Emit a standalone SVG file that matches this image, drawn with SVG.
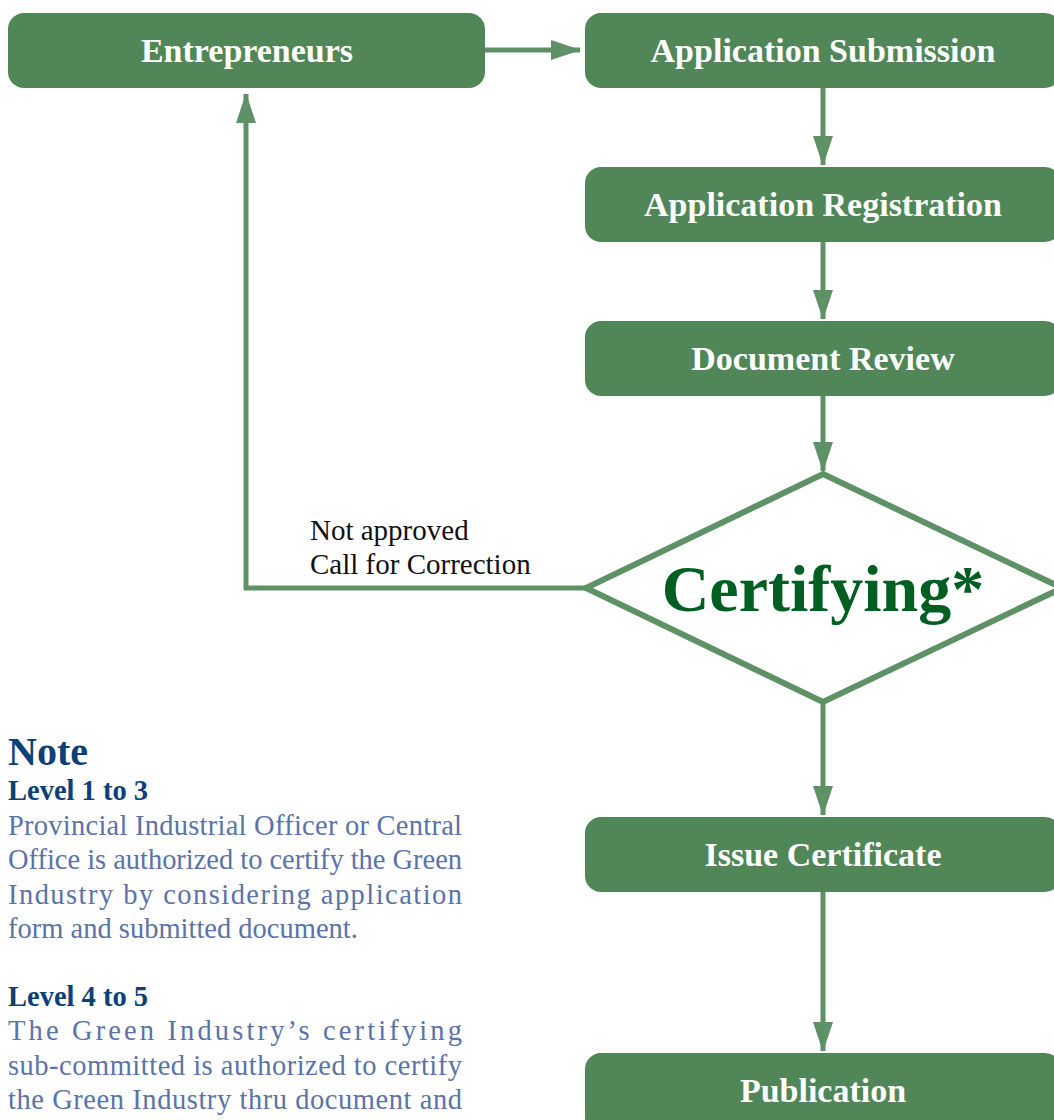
<svg xmlns="http://www.w3.org/2000/svg" width="1054" height="1120" viewBox="0 0 1054 1120">
<style>
.box{fill:#518658;}
.bt{font-family:"Liberation Serif",serif;font-weight:bold;font-size:34px;fill:#ffffff;text-anchor:middle;}
.ln{stroke:#5e9266;stroke-width:5;fill:none;}
.lbl{font-family:"Liberation Serif",serif;font-size:29px;fill:#111111;}
.nh{font-family:"Liberation Serif",serif;font-weight:bold;fill:#0d3f78;}
.np{font-family:"Liberation Serif",serif;font-size:28.5px;fill:#5a73a8;}
</style>
<defs>
<marker id="ah" viewBox="0 0 30 20" refX="29" refY="10" markerWidth="30" markerHeight="20" markerUnits="userSpaceOnUse" orient="auto">
<path d="M0,0 L30,10 L0,20 Z" fill="#5e9266"/>
</marker>
</defs>
<rect width="1054" height="1120" fill="#ffffff"/>
<g id="connectors">
<line class="ln" x1="485" y1="50" x2="580" y2="50" marker-end="url(#ah)"/>
<line class="ln" x1="823" y1="88" x2="823" y2="165" marker-end="url(#ah)"/>
<line class="ln" x1="823" y1="242" x2="823" y2="319" marker-end="url(#ah)"/>
<line class="ln" x1="823" y1="396" x2="823" y2="471" marker-end="url(#ah)"/>
<line class="ln" x1="823" y1="702" x2="823" y2="815" marker-end="url(#ah)"/>
<line class="ln" x1="823" y1="891" x2="823" y2="1051" marker-end="url(#ah)"/>
<polyline class="ln" points="585,588 246,588 246,94" marker-end="url(#ah)"/>
<text class="lbl" x="310" y="540">Not approved</text>
<text class="lbl" x="310" y="574">Call for Correction</text>
</g>
<g id="entrepreneurs">
<rect class="box" x="8" y="13" width="477" height="75" rx="16"/>
<text class="bt" x="247" y="62">Entrepreneurs</text>
</g>
<g id="application-submission">
<rect class="box" x="585" y="13" width="476" height="75" rx="16"/>
<text class="bt" x="823" y="62">Application Submission</text>
</g>
<g id="application-registration">
<rect class="box" x="585" y="167" width="476" height="75" rx="16"/>
<text class="bt" x="823" y="216">Application Registration</text>
</g>
<g id="document-review">
<rect class="box" x="585" y="321" width="476" height="75" rx="16"/>
<text class="bt" x="823" y="370">Document Review</text>
</g>
<g id="certifying">
<polygon points="823,474 1062,588 823,702 586,588" fill="#ffffff" stroke="#5e9266" stroke-width="6"/>
<text x="823" y="611" font-family="Liberation Serif,serif" font-weight="bold" font-size="66" fill="#005e22" text-anchor="middle">Certifying*</text>
</g>
<g id="issue-certificate">
<rect class="box" x="585" y="817" width="476" height="75" rx="16"/>
<text class="bt" x="823" y="866">Issue Certificate</text>
</g>
<g id="publication">
<rect class="box" x="585" y="1053" width="476" height="80" rx="16"/>
<text class="bt" x="823" y="1102">Publication</text>
</g>
<g id="note">
<text class="nh" x="8" y="765" font-size="40">Note</text>
<text class="nh" x="8" y="800" font-size="28.5">Level 1 to 3</text>
<text class="np" x="8" y="835" textLength="454" lengthAdjust="spacing">Provincial Industrial Officer or Central</text>
<text class="np" x="8" y="869" textLength="454" lengthAdjust="spacing">Office is authorized to certify the Green</text>
<text class="np" x="8" y="904" textLength="454" lengthAdjust="spacing">Industry by considering application</text>
<text class="np" x="8" y="938">form and submitted document.</text>
<text class="nh" x="8" y="1006" font-size="28.5">Level 4 to 5</text>
<text class="np" x="8" y="1040" textLength="454" lengthAdjust="spacing">The Green Industry’s certifying</text>
<text class="np" x="8" y="1075" textLength="454" lengthAdjust="spacing">sub-committed is authorized to certify</text>
<text class="np" x="8" y="1109" textLength="454" lengthAdjust="spacing">the Green Industry thru document and</text>
</g>
</svg>
